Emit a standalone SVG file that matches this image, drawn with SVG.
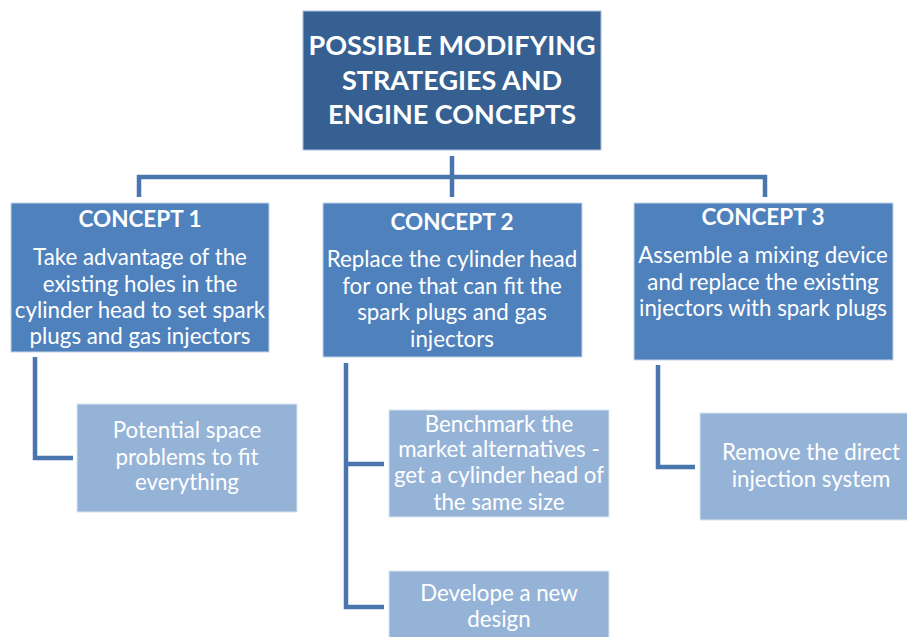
<svg xmlns="http://www.w3.org/2000/svg" width="907" height="637" viewBox="0 0 907 637">
<style>
.top{fill:#376092;stroke:#a9bfdc;stroke-width:1}
.con{fill:#4f81bd;stroke:#c5d5ea;stroke-width:1}
.sub{fill:#95b3d7;stroke:#dbe5f1;stroke-width:1}
text{font-family:Lato,"Open Sans",sans-serif;fill:#fff;text-anchor:middle}
.t{font-weight:bold;font-size:27px}
.h{font-weight:bold;font-size:22.5px}
.b{font-size:22.3px}
.ln{fill:none;stroke:#4a76ae;stroke-width:4.5}
</style>
<rect width="907" height="637" fill="#fff"/>
<g id="connectors">
<path class="ln" d="M452 156V197M139 197V177H765V197"/>
<path class="ln" d="M35 357V458H73"/>
<path class="ln" d="M346 363V607H384M346 464H384"/>
<path class="ln" d="M658 365V467H695"/>
</g>
<g id="root">
<rect class="top" x="303" y="11" width="298" height="139"/>
<text class="t" x="452" y="55">POSSIBLE MODIFYING</text>
<text class="t" x="452" y="90">STRATEGIES AND</text>
<text class="t" x="452" y="124">ENGINE CONCEPTS</text>
</g>
<g id="concept1">
<rect class="con" x="11" y="203" width="258" height="149"/>
<text class="h" x="140" y="227">CONCEPT 1</text>
<text class="b" x="140" y="265">Take advantage of the</text>
<text class="b" x="140" y="292">existing holes in the</text>
<text class="b" x="140" y="318">cylinder head to set spark</text>
<text class="b" x="140" y="344">plugs and gas injectors</text>
</g>
<g id="concept2">
<rect class="con" x="323" y="203" width="259" height="154"/>
<text class="h" x="452" y="230">CONCEPT 2</text>
<text class="b" x="452" y="267">Replace the cylinder head</text>
<text class="b" x="452" y="294">for one that can fit the</text>
<text class="b" x="452" y="320">spark plugs and gas</text>
<text class="b" x="452" y="347">injectors</text>
</g>
<g id="concept3">
<rect class="con" x="634" y="203" width="259" height="157"/>
<text class="h" x="763" y="225">CONCEPT 3</text>
<text class="b" x="763" y="263">Assemble a mixing device</text>
<text class="b" x="763" y="290">and replace the existing</text>
<text class="b" x="763" y="316">injectors with spark plugs</text>
</g>
<g id="sub1">
<rect class="sub" x="77" y="404" width="220" height="108"/>
<text class="b" x="187" y="438">Potential space</text>
<text class="b" x="187" y="465">problems to fit</text>
<text class="b" x="187" y="490">everything</text>
</g>
<g id="sub2a">
<rect class="sub" x="389" y="410" width="220" height="107"/>
<text class="b" x="499" y="432">Benchmark the</text>
<text class="b" x="499" y="457">market alternatives -</text>
<text class="b" x="499" y="483">get a cylinder head of</text>
<text class="b" x="499" y="510">the same size</text>
</g>
<g id="sub2b">
<rect class="sub" x="389" y="571" width="220" height="80"/>
<text class="b" x="499" y="601">Develope a new</text>
<text class="b" x="499" y="627">design</text>
</g>
<g id="sub3">
<rect class="sub" x="700" y="413" width="222" height="107"/>
<text class="b" x="811" y="460">Remove the direct</text>
<text class="b" x="811" y="487">injection system</text>
</g>
</svg>
